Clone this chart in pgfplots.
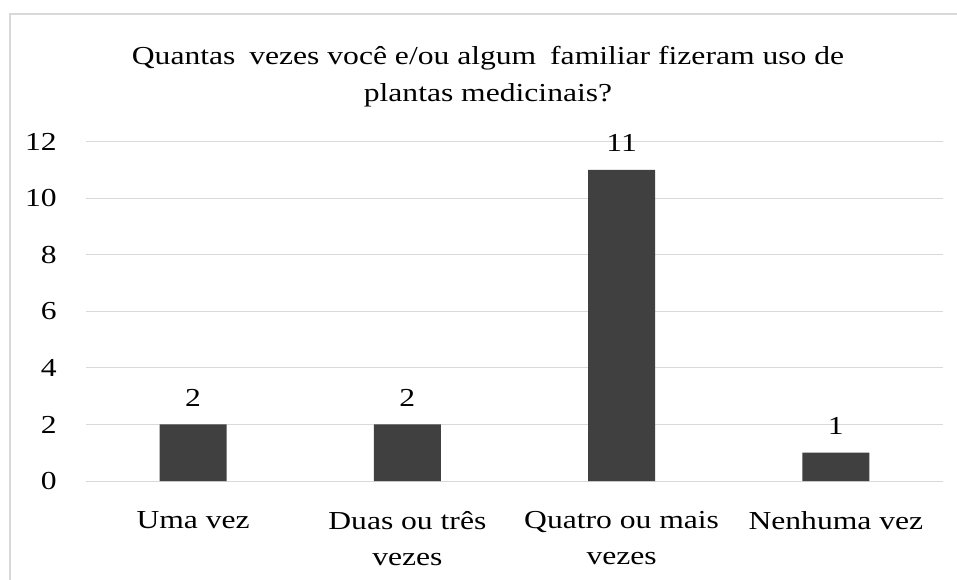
\documentclass[border=0pt]{standalone}
\usepackage{fontspec}
\setmainfont[FakeStretch=1.22]{Liberation Serif}
\usepackage{pgfplots}
\pgfplotsset{compat=1.18}
\definecolor{barc}{HTML}{404040}
\definecolor{gridc}{HTML}{D9D9D9}
\definecolor{framec}{HTML}{D9D9D9}
\newcommand{\cf}{\fontsize{26}{36}\selectfont}
\begin{document}
\begin{tikzpicture}
\useasboundingbox (-86bp,-99bp) rectangle (871bp,481bp);
\fill[white] (-86bp,-99bp) rectangle (871bp,481bp);
\draw[framec, line width=1.2bp] (-76bp,-99bp) -- (-76bp,467bp) -- (871bp,467bp);
\begin{axis}[
  at={(0,0)}, anchor=south west,
  scale only axis, width=857bp, height=339.3bp,
  xmin=-0.5, xmax=3.5, ymin=0, ymax=12,
  ytick={0,2,4,6,8,10,12},
  xtick={0,1,2,3},
  xticklabels={Uma vez, Duas ou três\\vezes, Quatro ou mais\\vezes, Nenhuma vez},
  axis line style={draw=none},
  ymajorgrids, grid style={gridc, line width=1bp},
  major tick length=0pt, tick style={draw=none},
  /pgf/number format/assume math mode=true,
  every tick label/.append style={font=\cf},
  yticklabel style={anchor=east, inner sep=0pt, xshift=-29bp},
  xticklabel style={align=center, anchor=north, inner sep=0pt, yshift=-30bp},
  ybar, bar width=67bp,
  nodes near coords,
  nodes near coords style={font=\cf, anchor=south, inner sep=0pt, yshift=18bp, /pgf/number format/assume math mode=true},
]
\addplot[fill=barc, draw=none] coordinates {(0,2) (1,2) (2,11) (3,1)};
\end{axis}
\node[anchor=base, font=\cf, inner sep=0pt] at (402bp,416bp) {Quantas\hspace{6bp} vezes você e/ou algum\hspace{6bp} familiar fizeram uso de};
\node[anchor=base, font=\cf, inner sep=0pt] at (402bp,379bp) {plantas medicinais?};
\end{tikzpicture}
\end{document}
